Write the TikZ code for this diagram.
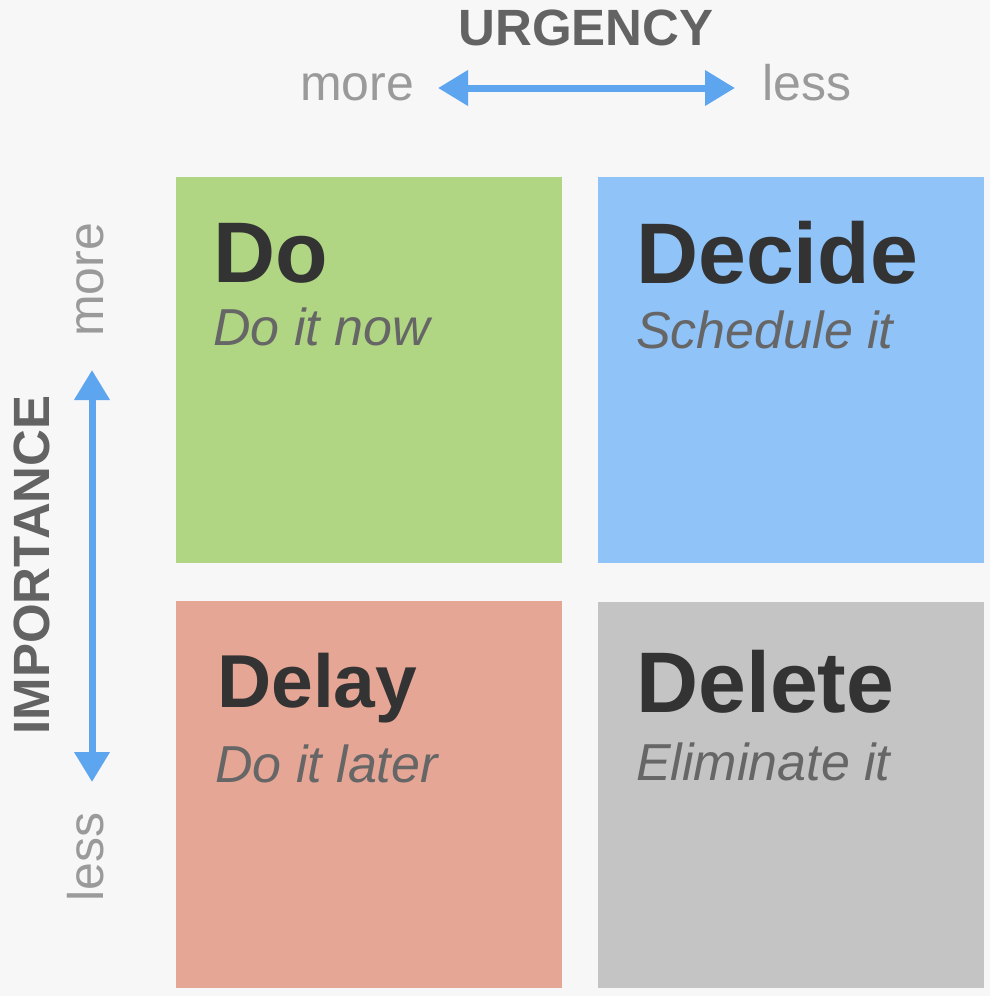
\documentclass[tikz,border=0pt]{standalone}
\usepackage{fontspec}
\setmainfont{Liberation Sans}
\usetikzlibrary{arrows.meta}

\definecolor{bgc}{HTML}{F7F7F7}
\definecolor{doc}{HTML}{B0D683}
\definecolor{decidec}{HTML}{90C3F7}
\definecolor{delayc}{HTML}{E6A696}
\definecolor{deletec}{HTML}{C4C4C4}
\definecolor{arrowc}{HTML}{5EA5F0}
\definecolor{titlec}{HTML}{333333}
\definecolor{subc}{HTML}{666666}
\definecolor{axisc}{HTML}{636363}
\definecolor{endc}{HTML}{9A9A9A}

\tikzset{
  quad/.style={inner sep=0pt},
  qtitle/.style={anchor=base west, inner sep=0pt, text=titlec,
    font=\fontsize{86}{86}\selectfont\bfseries},
  qsub/.style={anchor=base west, inner sep=0pt, text=subc,
    font=\fontsize{52}{52}\selectfont\itshape},
  axistitle/.style={anchor=base, inner sep=0pt, text=axisc,
    font=\fontsize{51}{51}\selectfont\bfseries},
  axisend/.style={anchor=base, inner sep=0pt, text=endc,
    font=\fontsize{50}{50}\selectfont},
  axisarrow/.style={arrowc, line width=7pt,
    {Triangle[length=30pt,width=34pt]}-{Triangle[length=30pt,width=34pt]}}
}

\begin{document}
\begin{tikzpicture}[x=1pt,y=-1pt]
    \useasboundingbox (0,0) rectangle (990,996);
    \fill[bgc] (0,0) rectangle (990,996);

    % Quadrants
    \fill[doc] (176,177) rectangle (562,563);
    \fill[decidec] (598,177) rectangle (984,563);
    \fill[delayc] (176,601) rectangle (562,988);
    \fill[deletec] (598,602) rectangle (984,988);

    % Quadrant texts
    \node[qtitle] (do) at (213,282) {Do};
    \node[qsub] (donow) at (213,345) {Do it now};
    \node[qtitle] (decide) at (636,283) {Decide};
    \node[qsub] (schedule) at (636,348) {Schedule it};
    \node[qtitle, font=\fontsize{75}{75}\selectfont\bfseries] (delay) at (217,707) {Delay};
    \node[qsub] (later) at (215,782) {Do it later};
    \node[qtitle] (delete) at (636,712) {Delete};
    \node[qsub] (eliminate) at (636,780) {Eliminate it};

    % Urgency axis
    \node[axistitle] (urgency) at (586,45) {URGENCY};
    \node[axisend] (umore) at (357,100) {more};
    \node[axisend] (uless) at (807,100) {less};
    \coordinate (uleft) at (438,88);
    \coordinate (uright) at (735,88);
    \draw[axisarrow] (uleft) -- (uright);

    % Importance axis
    \node[axistitle, rotate=90] (importance) at (49,565) {IMPORTANCE};
    \node[axisend, rotate=90] (vmore) at (103,280) {more};
    \node[axisend, rotate=90] (vless) at (103,857) {less};
    \coordinate (vtop) at (92,370);
    \coordinate (vbottom) at (92,782);
    \draw[axisarrow] (vtop) -- (vbottom);
\end{tikzpicture}
\end{document}
